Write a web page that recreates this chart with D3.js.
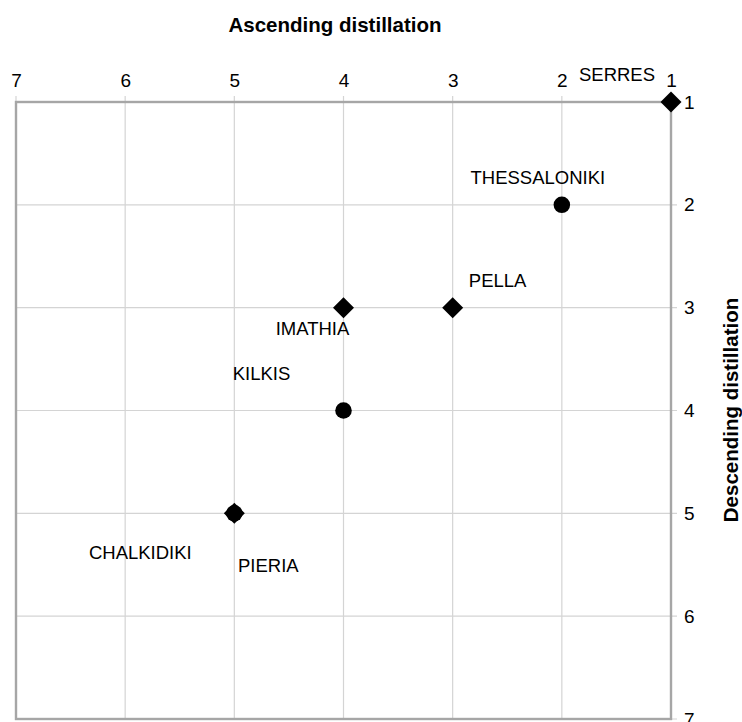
<!DOCTYPE html>
<html><head><meta charset="utf-8">
<script src="https://cdn.jsdelivr.net/npm/d3@7"></script>
<style>body{margin:0;background:#fff}svg{display:block;font-family:"Liberation Sans",Arial,sans-serif}</style>
</head><body>
<svg id="c" width="742" height="722"></svg>
<script>
const names = ["SERRES","THESSALONIKI","PELLA","IMATHIA","KILKIS","PIERIA","CHALKIDIKI"];
const ascending = [1,2,3,4,4,5,5];
const descending = [1,2,3,3,4,5,5];
const markerType = ["diamond","circle","diamond","diamond","circle","diamond","circle"];
const labelOffsetX = [-54,-24,45,-31,-82,34,-94];
const labelOffsetY = [-28,-27,-27,21,-37,52,39];
const ticks = [1,2,3,4,5,6,7];

const svg = d3.select("#c");
const L=16,R=671,T=102,B=719;
const x = d3.scaleLinear().domain([7,1]).range([L,R]);
const y = d3.scaleLinear().domain([1,7]).range([T,B]);

// grid
svg.append("g").selectAll("line").data(ticks).join("line")
  .attr("x1",d=>x(d)).attr("x2",d=>x(d)).attr("y1",T-6).attr("y2",B)
  .attr("stroke","#d4d4d4").attr("stroke-width",1.2);
svg.append("g").selectAll("line").data(ticks).join("line")
  .attr("x1",L).attr("x2",R+6).attr("y1",d=>y(d)).attr("y2",d=>y(d))
  .attr("stroke","#d4d4d4").attr("stroke-width",1.2);
// frame
svg.append("rect").attr("x",L).attr("y",T).attr("width",R-L).attr("height",B-T)
  .attr("fill","none").attr("stroke","#a6a6a6").attr("stroke-width",2.4);

// top axis
const xa = svg.append("g").attr("transform",`translate(0,${T})`)
  .call(d3.axisTop(x).tickValues(ticks).tickFormat(d3.format("d")).tickSize(0).tickPadding(15));
xa.select(".domain").remove();
xa.selectAll("text").attr("font-size",19).attr("fill","#000").attr("font-family","Liberation Sans, Arial, sans-serif");
// right axis
const ya = svg.append("g").attr("transform",`translate(${R},0)`)
  .call(d3.axisRight(y).tickValues(ticks).tickFormat(d3.format("d")).tickSize(0).tickPadding(13));
ya.select(".domain").remove();
ya.selectAll("text").attr("font-size",19).attr("fill","#000").attr("font-family","Liberation Sans, Arial, sans-serif");

// titles
svg.append("text").attr("x",335).attr("y",32).attr("text-anchor","middle")
  .attr("font-size",20.5).attr("font-weight","bold").text("Ascending distillation");
svg.append("text").attr("transform","translate(738,410) rotate(-90)").attr("text-anchor","middle")
  .attr("font-size",20.5).attr("font-weight","bold").text("Descending distillation");

const data = names.map((n,i)=>({n,a:ascending[i],d:descending[i],m:markerType[i],dx:labelOffsetX[i],dy:labelOffsetY[i]}));
const order = data.slice().sort((p,q)=>(p.m==="circle"?0:1)-(q.m==="circle"?0:1));
const g = svg.append("g");
g.selectAll("path").data(order).join("path")
  .attr("transform",d=>`translate(${x(d.a)},${y(d.d)})`)
  .attr("d",d=>d.m==="diamond"? "M0,-10.5L10.5,0L0,10.5L-10.5,0Z" : d3.symbol(d3.symbolCircle,215)())
  .attr("fill","#000");
svg.append("g").selectAll("text").data(data).join("text")
  .attr("x",d=>x(d.a)+d.dx).attr("y",d=>y(d.d)+d.dy+6.5)
  .attr("text-anchor","middle").attr("font-size",18.5).attr("fill","#000").text(d=>d.n);
</script>
</body></html>
